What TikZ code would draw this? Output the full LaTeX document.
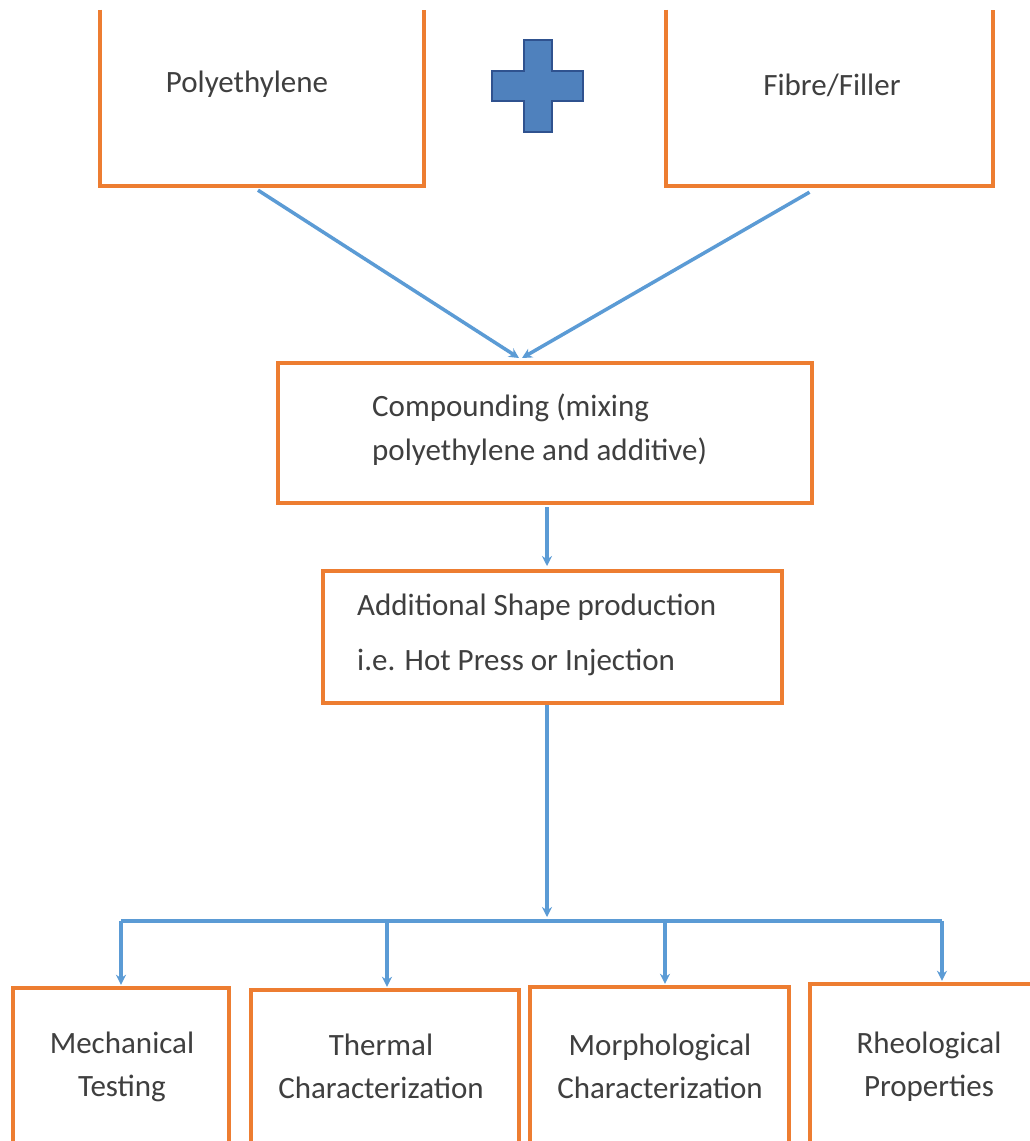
\documentclass[tikz,border=0pt]{standalone}
\usepackage{fontspec}
\setmainfont{Carlito}
\usetikzlibrary{arrows.meta,calc}
\definecolor{boxorange}{HTML}{ED7D31}
\definecolor{lineblue}{HTML}{5B9BD5}
\definecolor{plusfill}{HTML}{4F81BD}
\definecolor{plusedge}{HTML}{2F528F}
\definecolor{txtgray}{HTML}{3F3F3F}
\begin{document}
\begin{tikzpicture}[x=1pt,y=-1pt,
 shell/.style={draw=none,inner sep=0pt,rectangle},
 outline/.style={draw=boxorange,line width=4pt,line join=miter},
 fullbox/.style={draw=boxorange,line width=4pt,inner sep=0pt,rectangle},
 txt/.style={text=txtgray,font=\fontsize{31}{43}\selectfont,inner sep=0pt},
 conn/.style={draw=lineblue,line width=3.5pt},
 tip/.style={-{Stealth[length=10pt,width=10pt]}},
]
\useasboundingbox (0,0) rectangle (1029,1141);
\fill[white] (0,0) rectangle (1029,1141);

% top boxes (open at the top)
\node[shell,minimum width=324pt,minimum height=176pt] (pe) at (262,98) {};
\draw[outline] (pe.north west) -- (pe.south west) -- (pe.south east) -- (pe.north east);
\node[txt] (petext) at (247,84) {Polyethylene};

\node[shell,minimum width=327pt,minimum height=176pt] (fib) at (829.5,98) {};
\draw[outline] (fib.north west) -- (fib.south west) -- (fib.south east) -- (fib.north east);
\node[txt] (fibtext) at (832,85) {Fibre/Filler};

% plus sign
\draw[fill=plusfill,draw=plusedge,line width=1.5pt,line join=miter]
 (524,40) -- (552,40) -- (552,71) -- (583,71) -- (583,101) -- (552,101) -- (552,132)
 -- (524,132) -- (524,101) -- (492,101) -- (492,71) -- (524,71) -- cycle;

% compounding
\node[fullbox,minimum width=534pt,minimum height=140pt] (comp) at (545,433) {};
\node[txt,anchor=west,align=left,font=\fontsize{31}{44}\selectfont] (comptext) at (372,430)
 {Compounding (mixing\\polyethylene and additive)};

% additional shape production
\node[fullbox,minimum width=459pt,minimum height=132pt] (add) at (552.5,637) {};
\node[txt,anchor=west,align=left,font=\fontsize{31}{55}\selectfont] (addtext) at (357,634.5)
 {Additional Shape production\\i.e. Hot Press or Injection};

% bottom boxes (open at the bottom)
\node[shell,minimum width=216pt,minimum height=180pt] (mech) at (121,1078) {};
\draw[outline] (mech.south west) -- (mech.north west) -- (mech.north east) -- (mech.south east);
\node[txt,align=center] (mechtext) at (122,1066.5) {Mechanical\\Testing};

\node[shell,minimum width=268pt,minimum height=180pt] (therm) at (385,1080) {};
\draw[outline] (therm.south west) -- (therm.north west) -- (therm.north east) -- (therm.south east);
\node[txt,align=center] (thermtext) at (381,1066.5) {Thermal\\Characterization};

\node[shell,minimum width=259pt,minimum height=180pt] (morph) at (659.5,1077) {};
\draw[outline] (morph.south west) -- (morph.north west) -- (morph.north east) -- (morph.south east);
\node[txt,align=center] (morphtext) at (660,1066.5) {Morphological\\Characterization};

\node[shell,minimum width=230pt,minimum height=180pt] (rheo) at (925,1074) {};
\draw[outline] (rheo.south west) -- (rheo.north west) -- (rheo.north east) -- (rheo.south east);
\node[txt,align=center] (rheotext) at (929,1066.5) {Rheological\\Properties};

% connectors
\draw[conn,tip] ($(pe.south)+(-4,4)$) -- ($(comp.north)+(-26,-3)$);
\draw[conn,tip] ($(fib.south)+(-20,6)$) -- ($(comp.north)+(-23,-3)$);
\draw[conn,tip] ($(comp.south)+(2,2)$) -- ($(add.north)+(-5.5,-3)$);

\coordinate (hub) at (547,921);
\coordinate (hl) at (121,921);
\coordinate (d2) at (387,921);
\coordinate (d3) at (665,921);
\coordinate (hr) at (942,921);
\draw[conn,tip] (add.south -| hub) -- ($(hub)+(0,-4)$);
\draw[conn] (hl) -- (hr);
\draw[conn,tip] (hl) -- ($(hl |- mech.north)+(0,-3)$);
\draw[conn,tip] (d2) -- ($(d2 |- therm.north)+(0,-3)$);
\draw[conn,tip] (d3) -- ($(d3 |- morph.north)+(0,-3)$);
\draw[conn,tip] (hr) -- ($(hr |- rheo.north)+(0,-3)$);
\end{tikzpicture}
\end{document}
